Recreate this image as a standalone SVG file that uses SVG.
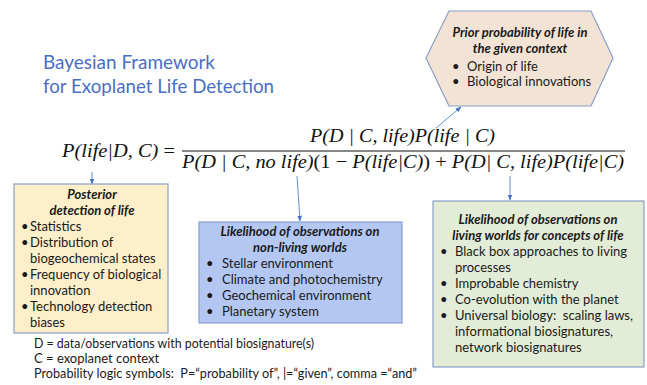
<svg xmlns="http://www.w3.org/2000/svg" width="647" height="385" viewBox="0 0 647 385">
<defs>
<marker id="arr" viewBox="0 0 10 10" refX="9" refY="5" markerWidth="6" markerHeight="6" orient="auto" markerUnits="userSpaceOnUse">
<path d="M0,1 L10,5 L0,9 z" fill="#4472c4"/>
</marker>
</defs>
<style>
.t{font-family:Lato,"Open Sans","Liberation Sans",sans-serif;font-size:13px;fill:#1a1a1a}
.h{font-weight:bold;font-style:italic;text-anchor:middle}
.m{font-family:"Liberation Serif","DejaVu Serif",serif;font-style:italic;font-size:19.5px;fill:#111}
.u{font-style:normal}
.title{font-family:Lato,"Open Sans","Liberation Sans",sans-serif;font-size:20px;fill:#4a6fc2}
.box{stroke:#8a9dc9;stroke-width:1.2}
.c{stroke:#4472c4;stroke-width:0.8;fill:none}
</style>
<rect width="647" height="385" fill="#ffffff"/>
<g id="title">
<text class="title" x="43" y="69" textLength="172" lengthAdjust="spacingAndGlyphs">Bayesian Framework</text>
<text class="title" x="43" y="93" textLength="231" lengthAdjust="spacingAndGlyphs">for Exoplanet Life Detection</text>
</g>
<g id="formula">
<text class="m" x="62" y="157" textLength="113" lengthAdjust="spacingAndGlyphs">P(life|D, C) <tspan class="u">=</tspan></text>
<text class="m" x="310" y="142" textLength="185" lengthAdjust="spacingAndGlyphs">P(D | C, life)P(life | C)</text>
<line x1="182" y1="151" x2="625" y2="151" stroke="#111" stroke-width="1.2"/>
<text class="m" x="182" y="168" textLength="442" lengthAdjust="spacingAndGlyphs">P(D | C, no life)<tspan class="u">(1 − </tspan>P(life|C)<tspan class="u">) + </tspan>P(D| C, life)P(life|C)</text>
</g>
<g id="connectors">
<line class="c" x1="436" y1="128" x2="461" y2="107" marker-end="url(#arr)"/>
<line class="c" x1="92" y1="172" x2="92" y2="184" marker-end="url(#arr)"/>
<line class="c" x1="297" y1="176" x2="300" y2="221" marker-end="url(#arr)"/>
<line class="c" x1="510" y1="176" x2="510" y2="200" marker-end="url(#arr)"/>
</g>
<g id="prior">
<polygon class="box" points="449,11 591,11 613,58 591,106 449,106 426,58" fill="#f3e3d5"/>
<text class="t h" x="520" y="37">Prior probability of life in</text>
<text class="t h" x="520" y="53">the given context</text>
<text class="t" x="452" y="71">•</text><text class="t" x="467" y="71">Origin of life</text>
<text class="t" x="452" y="86">•</text><text class="t" x="467" y="86">Biological innovations</text>
</g>
<g id="posterior">
<rect class="box" x="14" y="184" width="154" height="149" fill="#fcefca"/>
<text class="t h" x="92" y="199">Posterior</text>
<text class="t h" x="92" y="215">detection of life</text>
<text class="t" x="21" y="231">•</text><text class="t" x="30" y="231">Statistics</text>
<text class="t" x="21" y="247">•</text><text class="t" x="30" y="247">Distribution of</text>
<text class="t" x="30" y="263">biogeochemical states</text>
<text class="t" x="21" y="279">•</text><text class="t" x="30" y="279">Frequency of biological</text>
<text class="t" x="30" y="295">innovation</text>
<text class="t" x="21" y="311">•</text><text class="t" x="30" y="311">Technology detection</text>
<text class="t" x="30" y="327">biases</text>
</g>
<g id="nonliving">
<rect class="box" x="199" y="222" width="203" height="101" fill="#b3c7f2"/>
<text class="t h" x="300" y="236">Likelihood of observations on</text>
<text class="t h" x="300" y="252">non-living worlds</text>
<text class="t" x="206" y="268">•</text><text class="t" x="222" y="268">Stellar environment</text>
<text class="t" x="206" y="284">•</text><text class="t" x="222" y="284">Climate and photochemistry</text>
<text class="t" x="206" y="300">•</text><text class="t" x="222" y="300">Geochemical environment</text>
<text class="t" x="206" y="316">•</text><text class="t" x="222" y="316">Planetary system</text>
</g>
<g id="living">
<rect class="box" x="433" y="201" width="211" height="166" fill="#e2ecd6"/>
<text class="t h" x="538" y="224">Likelihood of observations on</text>
<text class="t h" x="538" y="240">living worlds for concepts of life</text>
<text class="t" x="440" y="256">•</text><text class="t" x="455" y="256">Black box approaches to living</text>
<text class="t" x="455" y="272">processes</text>
<text class="t" x="440" y="288">•</text><text class="t" x="455" y="288">Improbable chemistry</text>
<text class="t" x="440" y="304">•</text><text class="t" x="455" y="304">Co-evolution with the planet</text>
<text class="t" x="440" y="320">•</text><text class="t" x="455" y="320" xml:space="preserve">Universal biology:  scaling laws,</text>
<text class="t" x="455" y="336">informational biosignatures,</text>
<text class="t" x="455" y="352">network biosignatures</text>
</g>
<g id="legend">
<text class="t" x="34" y="348" textLength="280" lengthAdjust="spacingAndGlyphs">D = data/observations with potential biosignature(s)</text>
<text class="t" x="34" y="363">C = exoplanet context</text>
<text class="t" x="34" y="378" xml:space="preserve" textLength="383" lengthAdjust="spacingAndGlyphs">Probability logic symbols:  P=“probability of”, |=“given”, comma =“and”</text>
</g>
</svg>
